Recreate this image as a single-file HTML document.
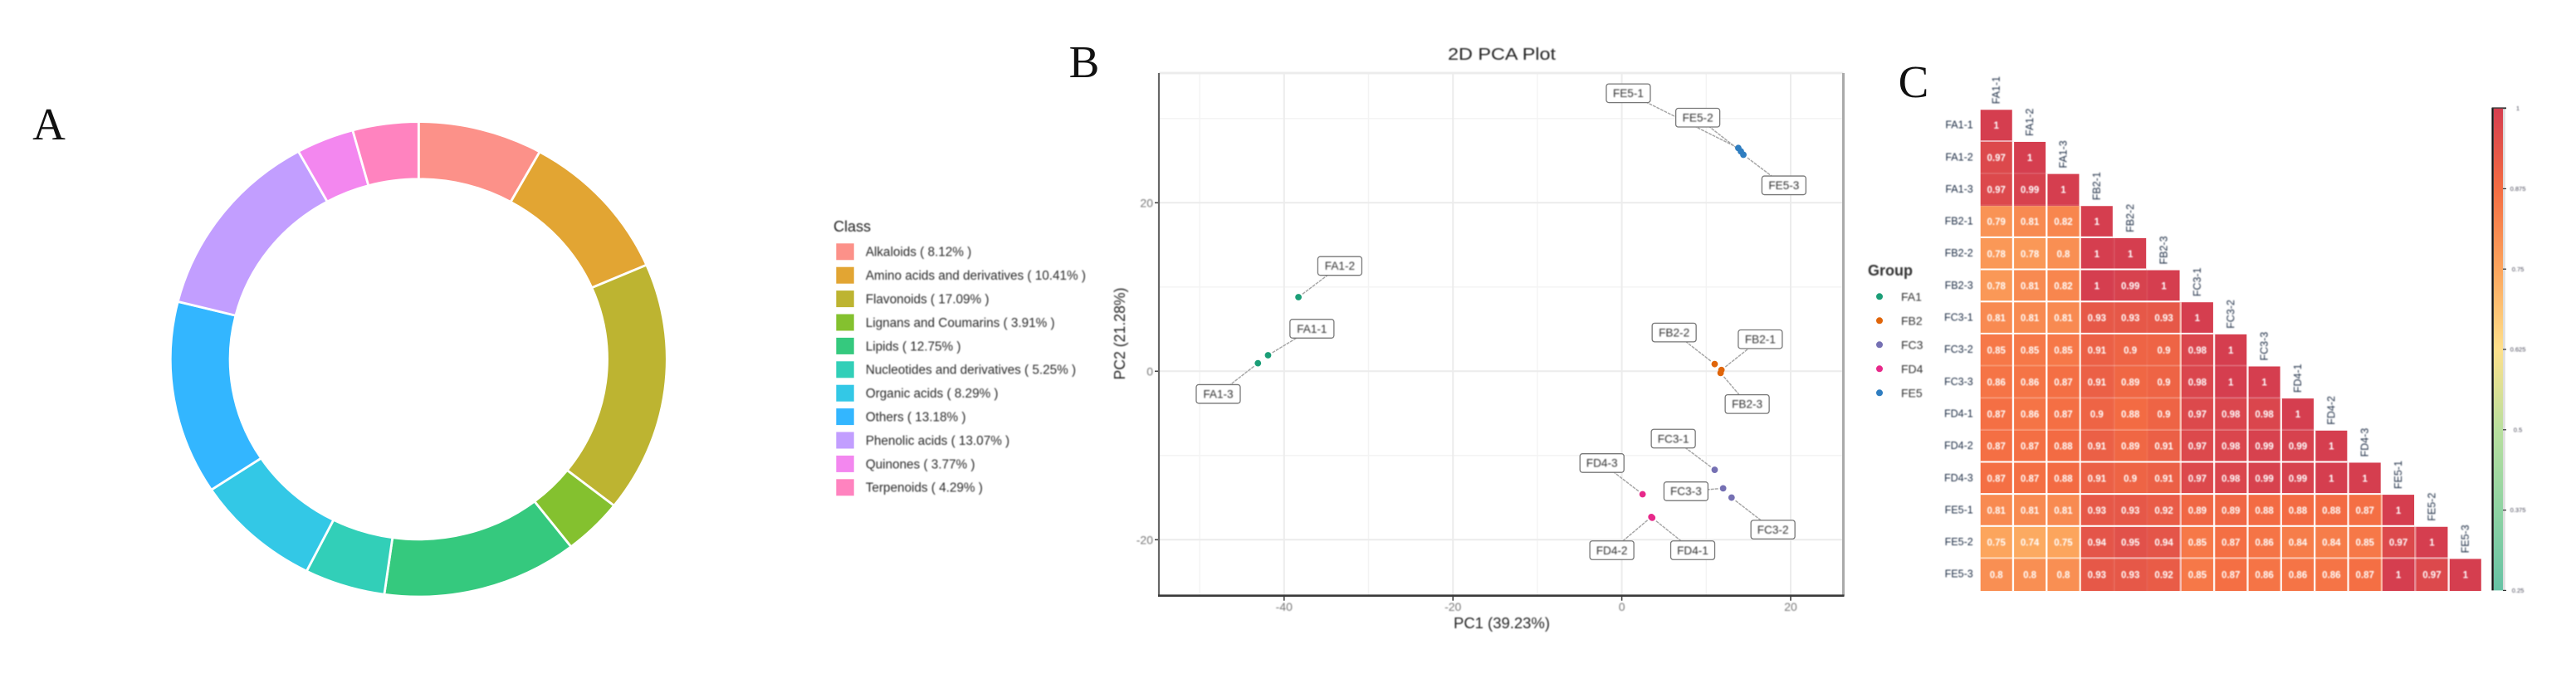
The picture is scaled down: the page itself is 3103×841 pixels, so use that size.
<!DOCTYPE html>
<html lang="en">
<head>
<meta charset="utf-8">
<title>Metabolite class composition, PCA and correlation</title>
<style>
html,body{margin:0;padding:0;background:#fff;}
#figure{display:block;width:3103px;height:841px;font-family:"Liberation Sans",sans-serif;}
.soft{filter:blur(.8px);}
</style>
</head>
<body>
<svg id="figure" xmlns="http://www.w3.org/2000/svg" width="3103" height="841" viewBox="0 0 3103 841">
<rect x="0" y="0" width="3103" height="841" fill="#fff"/>
<text x="59" y="168" text-anchor="middle" font-family="'Liberation Serif',serif" font-size="55" fill="#111">A</text>
<text x="1306" y="93" text-anchor="middle" font-family="'Liberation Serif',serif" font-size="55" fill="#111">B</text>
<text x="2305" y="117" text-anchor="middle" font-family="'Liberation Serif',serif" font-size="55" fill="#111">C</text>
<g id="donut"></g>
<g id="donutLegend"></g>
<g id="pca"></g>
<g id="pcaLegend"></g>
<g id="heat"></g>
<g id="colorbar"></g>
</svg>
<script>
// ---------- Panel A data ----------
const classNames = ["Alkaloids","Amino acids and derivatives","Flavonoids","Lignans and Coumarins","Lipids","Nucleotides and derivatives","Organic acids","Others","Phenolic acids","Quinones","Terpenoids"];
const classPercents = [8.12,10.41,17.09,3.91,12.75,5.25,8.29,13.18,13.07,3.77,4.29];
const classColors = ["#fc9189","#e2a533","#bdb431","#84c12f","#35c97e","#32cfb8","#33c8e6","#33b6ff","#c29eff","#f387ef","#ff83bf"];

// ---------- Panel B data ----------
const sampleNames = ["FA1-1","FA1-2","FA1-3","FB2-1","FB2-2","FB2-3","FC3-1","FC3-2","FC3-3","FD4-1","FD4-2","FD4-3","FE5-1","FE5-2","FE5-3"];
const sampleGroups = ["FA1","FA1","FA1","FB2","FB2","FB2","FC3","FC3","FC3","FD4","FD4","FD4","FE5","FE5","FE5"];
const pc1Values = [-41.9,-38.3,-43.1,11.8,11.0,11.7,11.0,13.0,12.0,3.6,3.5,2.46,13.8,14.1,14.4];
const pc2Values = [1.9,8.8,0.95,0.15,0.85,-0.2,-11.7,-15.0,-13.9,-17.4,-17.3,-14.6,26.5,26.1,25.7];
const labelPc1 = [-36.7,-33.4,-47.8,16.4,6.2,14.85,6.1,17.9,7.6,8.4,-1.18,-2.35,0.77,9.0,19.2];
const labelPc2 = [5.05,12.5,-2.7,3.8,4.6,-3.9,-8.0,-18.8,-14.25,-21.25,-21.25,-10.9,33.0,30.1,22.07];
const groupNames = ["FA1","FB2","FC3","FD4","FE5"];
const groupColors = ["#1b9e77","#e0650a","#7570b3","#e7298a","#2f7dc0"];
const pcaMajorTicksX = [-40,-20,0,20];
const pcaMinorTicksX = [-50,-30,-10,10];
const pcaMajorTicksY = [20,0,-20];
const pcaMinorTicksY = [30,10,-10];

// ---------- Panel C data ----------
const corrLabels = ["FA1-1","FA1-2","FA1-3","FB2-1","FB2-2","FB2-3","FC3-1","FC3-2","FC3-3","FD4-1","FD4-2","FD4-3","FE5-1","FE5-2","FE5-3"];
const corrRow01 = [1];
const corrRow02 = [0.97,1];
const corrRow03 = [0.97,0.99,1];
const corrRow04 = [0.79,0.81,0.82,1];
const corrRow05 = [0.78,0.78,0.8,1,1];
const corrRow06 = [0.78,0.81,0.82,1,0.99,1];
const corrRow07 = [0.81,0.81,0.81,0.93,0.93,0.93,1];
const corrRow08 = [0.85,0.85,0.85,0.91,0.9,0.9,0.98,1];
const corrRow09 = [0.86,0.86,0.87,0.91,0.89,0.9,0.98,1,1];
const corrRow10 = [0.87,0.86,0.87,0.9,0.88,0.9,0.97,0.98,0.98,1];
const corrRow11 = [0.87,0.87,0.88,0.91,0.89,0.91,0.97,0.98,0.99,0.99,1];
const corrRow12 = [0.87,0.87,0.88,0.91,0.9,0.91,0.97,0.98,0.99,0.99,1,1];
const corrRow13 = [0.81,0.81,0.81,0.93,0.93,0.92,0.89,0.89,0.88,0.88,0.88,0.87,1];
const corrRow14 = [0.75,0.74,0.75,0.94,0.95,0.94,0.85,0.87,0.86,0.84,0.84,0.85,0.97,1];
const corrRow15 = [0.8,0.8,0.8,0.93,0.93,0.92,0.85,0.87,0.86,0.86,0.86,0.87,1,0.97,1];
const corrRows = [corrRow01,corrRow02,corrRow03,corrRow04,corrRow05,corrRow06,corrRow07,corrRow08,corrRow09,corrRow10,corrRow11,corrRow12,corrRow13,corrRow14,corrRow15];
const colorbarTicks = [1,0.875,0.75,0.625,0.5,0.375,0.25];
const colorStopValues = [1,0.875,0.75,0.625,0.5,0.375,0.25];
const colorStopColors = ["#d53e4f","#f46d43","#fca55d","#fee08b","#b9df9e","#8fd3a3","#66c2a5"];

const NS = "http://www.w3.org/2000/svg";
function mk(tag, attrs, parent){
  const el = document.createElementNS(NS, tag);
  for(const k in attrs){ el.setAttribute(k, attrs[k]); }
  parent.appendChild(el);
  return el;
}

// ---------- Panel A ----------
(function(){
  const root = document.getElementById("donut");
  const cx = 504.3, cy = 432.8, rxO = 299, ryO = 286.2, rxI = 227.2, ryI = 217;
  const total = classPercents.reduce((a,b)=>a+b,0);
  const pt = (rx,ry,a)=>[cx+rx*Math.sin(a), cy-ry*Math.cos(a)];
  let acc = 0;
  classPercents.forEach((v,i)=>{
    const a0 = acc/total*2*Math.PI;
    acc += v;
    const a1 = acc/total*2*Math.PI;
    const large = (a1-a0)>Math.PI?1:0;
    const p0 = pt(rxO,ryO,a0), p1 = pt(rxO,ryO,a1), p2 = pt(rxI,ryI,a1), p3 = pt(rxI,ryI,a0);
    const d = `M${p0[0]} ${p0[1]}A${rxO} ${ryO} 0 ${large} 1 ${p1[0]} ${p1[1]}L${p2[0]} ${p2[1]}A${rxI} ${ryI} 0 ${large} 0 ${p3[0]} ${p3[1]}Z`;
    const slice = mk("path",{d:d,fill:classColors[i],stroke:"#fff","stroke-width":2.8},root);
    
    
  });

  const lg = document.getElementById("donutLegend");
  const title = mk("text",{x:1004,y:279,"font-size":18,fill:"#222",class:"soft"},lg);
  title.textContent = "Class";
  
  
  classNames.forEach((name,i)=>{
    const yc = 303.3 + i*28.4;
    const sw = mk("rect",{x:1007.3,y:yc-10,width:21.4,height:20,fill:classColors[i]},lg);
    
    
    const t = mk("text",{x:1042.7,y:yc+5.4,"font-size":15.3,fill:"#2a2a2a",class:"soft"},lg);
    t.textContent = name + " ( " + classPercents[i].toFixed(2) + "% )";
    
    
  });
})();

// ---------- Panel B ----------
(function(){
  const root = document.getElementById("pca");
  const L = 1396, R = 2220.5, T = 88, B = 717.7;
  const sx = v => 1953.6 + v*10.17;
  const sy = v => 447.3 - v*10.15;

  pcaMinorTicksX.forEach(v=>{
    const g = mk("line",{x1:sx(v),x2:sx(v),y1:T,y2:B,stroke:"#f3f3f3","stroke-width":1.4},root);
    
    
  });
  pcaMinorTicksY.forEach(v=>{
    const g = mk("line",{x1:L,x2:R,y1:sy(v),y2:sy(v),stroke:"#f3f3f3","stroke-width":1.4},root);
    
    
  });
  pcaMajorTicksX.forEach(v=>{
    const g = mk("line",{x1:sx(v),x2:sx(v),y1:T,y2:B,stroke:"#ececec","stroke-width":2},root);
    
    
    const tk = mk("line",{x1:sx(v),x2:sx(v),y1:B,y2:B+6,stroke:"#444","stroke-width":1.6},root);
    
    
    const t = mk("text",{x:sx(v),y:736,"text-anchor":"middle","font-size":14,fill:"#777",class:"soft"},root);
    t.textContent = String(v);
    
    
  });
  pcaMajorTicksY.forEach(v=>{
    const g = mk("line",{x1:L,x2:R,y1:sy(v),y2:sy(v),stroke:"#ececec","stroke-width":2},root);
    
    
    const tk = mk("line",{x1:L-5,x2:L,y1:sy(v),y2:sy(v),stroke:"#444","stroke-width":1.6},root);
    
    
    const t = mk("text",{x:L-7,y:sy(v)+5,"text-anchor":"end","font-size":14,fill:"#777",class:"soft"},root);
    t.textContent = String(v);
    
    
  });

  const borderTop = mk("line",{x1:L,x2:R,y1:T,y2:T,stroke:"#ececec","stroke-width":3},root);
  
  
  const borderRight = mk("line",{x1:R,x2:R,y1:T,y2:B,stroke:"#aaa","stroke-width":3},root);
  
  
  const borderLeft = mk("line",{x1:L,x2:L,y1:T,y2:B,stroke:"#666","stroke-width":2.2},root);
  
  
  const borderBottom = mk("line",{x1:L-1,x2:R+1,y1:B,y2:B,stroke:"#3a3a3a","stroke-width":2.6},root);
  
  

  const boxW = 53, boxH = 22.5;
  sampleNames.forEach((name,i)=>{
    const px = sx(pc1Values[i]), py = sy(pc2Values[i]);
    const lx = sx(labelPc1[i]), ly = sy(labelPc2[i]);
    const dx = lx-px, dy = ly-py;
    const f = Math.min(Math.abs(dx)>0?(boxW/2)/Math.abs(dx):9, Math.abs(dy)>0?(boxH/2)/Math.abs(dy):9);
    const len = Math.hypot(dx,dy);
    const ex = lx-dx*f, ey = ly-dy*f;
    const sxx = px+dx/len*6, syy = py+dy/len*6;
    if(Math.hypot(ex-px,ey-py) > 16){
      const seg = mk("line",{x1:sxx,y1:syy,x2:ex,y2:ey,stroke:"#a8a8a8","stroke-width":1.5,"stroke-dasharray":"4 1"},root);
      
      
    }
  });
  sampleNames.forEach((name,i)=>{
    const dot = mk("circle",{cx:sx(pc1Values[i]),cy:sy(pc2Values[i]),r:3.9,fill:groupColors[groupNames.indexOf(sampleGroups[i])]},root);
    
    
  });
  sampleNames.forEach((name,i)=>{
    const lx = sx(labelPc1[i]), ly = sy(labelPc2[i]);
    const box = mk("rect",{x:lx-boxW/2,y:ly-boxH/2,width:boxW,height:boxH,rx:3,ry:3,fill:"#fff",stroke:"#777","stroke-width":1.3},root);
    
    
    const t = mk("text",{x:lx,y:ly+4.8,"text-anchor":"middle","font-size":13.6,fill:"#333",class:"soft"},root);
    t.textContent = name;
    
    
  });

  const title = mk("text",{x:1809,y:72,"text-anchor":"middle","font-size":20,textLength:130,lengthAdjust:"spacingAndGlyphs",fill:"#222",class:"soft"},root);
  title.textContent = "2D PCA Plot";
  
  
  const xt = mk("text",{x:1809,y:757,"text-anchor":"middle","font-size":18,textLength:116,lengthAdjust:"spacingAndGlyphs",fill:"#222",class:"soft"},root);
  xt.textContent = "PC1 (39.23%)";
  
  
  const yt = mk("text",{x:0,y:0,transform:"translate(1355,402) rotate(-90)","text-anchor":"middle","font-size":18,textLength:111,lengthAdjust:"spacingAndGlyphs",fill:"#222",class:"soft"},root);
  yt.textContent = "PC2 (21.28%)";
  
  

  const lg = document.getElementById("pcaLegend");
  const gt = mk("text",{x:2250,y:332,"font-size":18,"font-weight":"bold",fill:"#333",class:"soft"},lg);
  gt.textContent = "Group";
  
  
  groupNames.forEach((g,i)=>{
    const yc = 357.3 + i*29;
    const d = mk("circle",{cx:2264,cy:yc,r:4,fill:groupColors[i]},lg);
    
    
    const t = mk("text",{x:2290,y:yc+5,"font-size":14,fill:"#333",class:"soft"},lg);
    t.textContent = g;
    
    
  });
})();

// ---------- Panel C ----------
function hexRgb(h){ return [parseInt(h.slice(1,3),16),parseInt(h.slice(3,5),16),parseInt(h.slice(5,7),16)]; }
function corrColor(v){
  for(let i=0;i<colorStopValues.length-1;i++){
    if(v<=colorStopValues[i] && v>=colorStopValues[i+1]){
      const f=(colorStopValues[i]-v)/(colorStopValues[i]-colorStopValues[i+1]);
      const a=hexRgb(colorStopColors[i]), b=hexRgb(colorStopColors[i+1]);
      return "rgb("+a.map((c,k)=>Math.round(c+(b[k]-c)*f)).join(",")+")";
    }
  }
  return colorStopColors[colorStopColors.length-1];
}
(function(){
  const root = document.getElementById("heat");
  const X0 = 2385.7, Y0 = 132.3, PX = 40.36, PY = 38.65;
  const sx = c => X0 + c*PX;
  const sy = r => Y0 + r*PY;
  const colSepAlpha = [1,1,.8,.05,.05,.6,.9,.9,.9,.9,.9,.5,.4,.9];
  const rowSepAlpha = [.55,.1,.1,1,1,1,.9,.2,.2,.2,1,1,1,.55];
  corrRows.forEach((row,r)=>{
    row.forEach((v,c)=>{
      const cell = mk("rect",{x:sx(c),y:sy(r),width:PX-(c===r?2.3:0),height:PY,fill:corrColor(v)},root);
      
      
    });
  });
  colSepAlpha.forEach((a,c)=>{
    const x = sx(c+1)-1.15;
    const line = mk("line",{x1:x,x2:x,y1:sy(c+1),y2:sy(15),stroke:"#fff","stroke-width":2.3,"stroke-opacity":a},root);
    
    
  });
  rowSepAlpha.forEach((a,r)=>{
    const y = sy(r+1)-1;
    const line = mk("line",{x1:sx(0),x2:sx(r+1)-2.3,y1:y,y2:y,stroke:"#fff","stroke-width":2,"stroke-opacity":a},root);
    
    
  });
  corrRows.forEach((row,r)=>{
    row.forEach((v,c)=>{
      const t = mk("text",{x:sx(c)+(PX-2.3)/2,y:sy(r)+PY/2+3.6,"text-anchor":"middle","font-size":11.5,"font-weight":"bold",fill:"#fff",class:"soft"},root);
      t.textContent = String(v);
      
      
    });
  });
  corrLabels.forEach((name,i)=>{
    const rl = mk("text",{x:2376.7,y:sy(i)+PY/2+3,"text-anchor":"end","font-size":12.5,fill:"#1c2c44",class:"soft"},root);
    rl.textContent = name;
    
    
    const cxx = sx(i)+(PX-2.3)/2+4;
    const cy = sy(i)-7;
    const cl = mk("text",{x:0,y:0,transform:`translate(${cxx},${cy}) rotate(-90)`,"font-size":12.5,fill:"#1c2c44",class:"soft"},root);
    cl.textContent = name;
    
    
  });

  // colour bar
  const cb = document.getElementById("colorbar");
  const top = 130.6, bot = 711.4;
  const vy = v => top + (colorbarTicks[0]-v)/(colorbarTicks[0]-colorbarTicks[colorbarTicks.length-1])*(bot-top);
  const defs = mk("defs",{},cb);
  const grad = mk("linearGradient",{id:"cbGrad",x1:0,y1:0,x2:0,y2:1},defs);
  colorStopValues.forEach((v,i)=>{
    mk("stop",{offset:(vy(v)-top)/(bot-top),"stop-color":colorStopColors[i]},grad);
  });
  const strip = mk("rect",{x:3015,y:top,width:2.7,height:bot-top,fill:"#ddd"},cb);
  
  
  const bar = mk("rect",{x:3004,y:top,width:11,height:bot-top,fill:"url(#cbGrad)"},cb);
  
  
  const axis = mk("line",{x1:3002.6,x2:3002.6,y1:top-1,y2:bot,stroke:"#111","stroke-width":2.4},cb);
  
  
  const cap = mk("line",{x1:3002,x2:3019,y1:top-.5,y2:top-.5,stroke:"#333","stroke-width":1.4},cb);
  
  
  colorbarTicks.forEach(v=>{
    const tk = mk("line",{x1:3015,x2:3019,y1:vy(v),y2:vy(v),stroke:"#333","stroke-width":1.2},cb);
    
    
    const t = mk("text",{x:3033,y:vy(v)+2.6,"text-anchor":"middle","font-size":7.5,fill:"#445",class:"soft"},cb);
    t.textContent = String(v);
    
    
  });
})();
</script>
</body>
</html>
